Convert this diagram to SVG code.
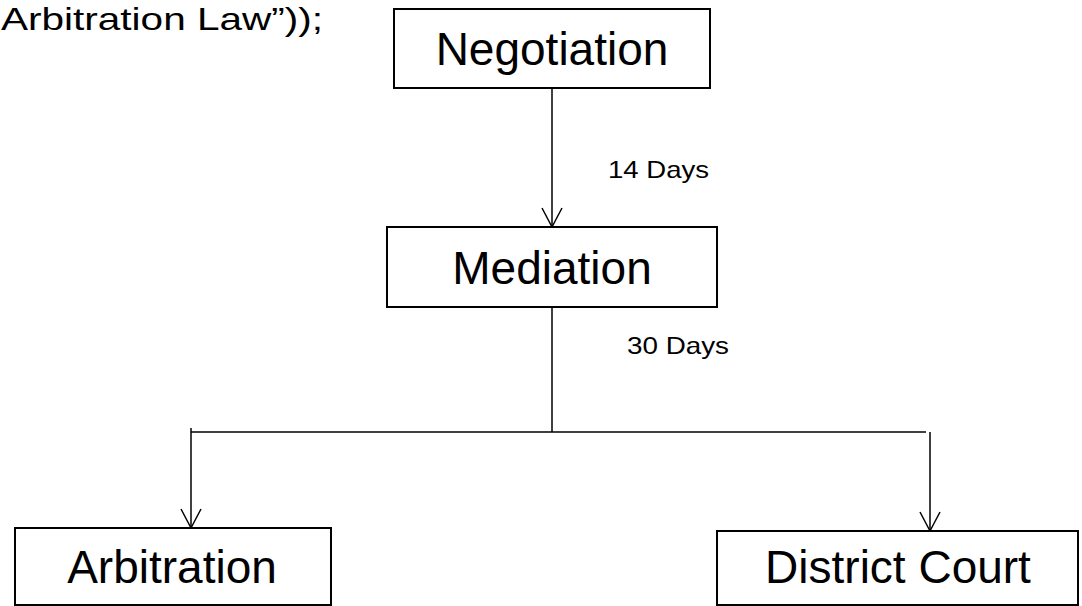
<svg xmlns="http://www.w3.org/2000/svg" width="1082" height="606" viewBox="0 0 1082 606">
<style>
.box{fill:#fff;stroke:#000;stroke-width:2}
.big{font-family:"Liberation Sans",Arial,sans-serif;font-size:46px;fill:#000;text-anchor:middle}
.lbl{font-family:"Liberation Sans",Arial,sans-serif;font-size:24px;fill:#000}
.ln{fill:none;stroke:#000;stroke-width:1.5}
</style>
<defs>
<marker id="arr" viewBox="0 0 22 22" refX="20" refY="11" markerWidth="22" markerHeight="22" markerUnits="userSpaceOnUse" orient="auto">
<path d="M1,1 L20,11 L1,21" fill="none" stroke="#000" stroke-width="1.5"/>
</marker>
</defs>
<rect width="1082" height="606" fill="#fff"/>
<text class="lbl" x="1" y="30" textLength="322" lengthAdjust="spacingAndGlyphs" style="font-size:32px">Arbitration Law”));</text>
<g id="connectors">
<line class="ln" x1="552" y1="88" x2="552" y2="227" marker-end="url(#arr)"/>
<line class="ln" x1="552" y1="307" x2="552" y2="432"/>
<line class="ln" x1="191" y1="432" x2="926" y2="432"/>
<line class="ln" x1="191" y1="428" x2="191" y2="528" marker-end="url(#arr)"/>
<line class="ln" x1="930" y1="432" x2="930" y2="531" marker-end="url(#arr)"/>
<text class="lbl" x="608" y="178" textLength="101" lengthAdjust="spacingAndGlyphs">14 Days</text>
<text class="lbl" x="627" y="354" textLength="102" lengthAdjust="spacingAndGlyphs">30 Days</text>
</g>
<g id="negotiation">
<rect class="box" x="394" y="9" width="316" height="79"/>
<text class="big" x="552" y="65">Negotiation</text>
</g>
<g id="mediation">
<rect class="box" x="387" y="227" width="330" height="80"/>
<text class="big" x="552" y="284">Mediation</text>
</g>
<g id="arbitration">
<rect class="box" x="15" y="528" width="316" height="77"/>
<text class="big" x="172" y="583">Arbitration</text>
</g>
<g id="district-court">
<rect class="box" x="717" y="531" width="361" height="74"/>
<text class="big" x="898" y="583">District Court</text>
</g>
</svg>
